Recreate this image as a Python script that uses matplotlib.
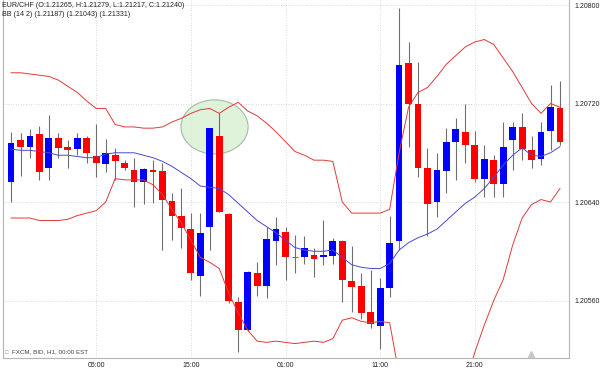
import matplotlib
matplotlib.use("Agg")
import matplotlib.pyplot as plt
from matplotlib.patches import Rectangle, Ellipse

plt.rcParams["font.family"] = ["Liberation Sans", "DejaVu Sans"]

# hourly EUR/CHF candles
opens = [1.20656, 1.20690, 1.20685, 1.20695, 1.20668, 1.20692, 1.20685, 1.20683, 1.20692, 1.20677,
         1.20671, 1.20678, 1.20672, 1.20666, 1.20656, 1.20666, 1.20665, 1.20641, 1.20629, 1.20618,
         1.20580, 1.20620, 1.20694, 1.20630, 1.20559, 1.20536, 1.20582, 1.20572, 1.20608, 1.20616,
         1.20595, 1.20595, 1.20597, 1.20595, 1.20596, 1.20608, 1.20576, 1.20572, 1.20551, 1.20539,
         1.20570, 1.20608, 1.20753, 1.20720, 1.20668, 1.20640, 1.20665, 1.20689, 1.20697, 1.20686,
         1.20659, 1.20674, 1.20655, 1.20690, 1.20701, 1.20682, 1.20675, 1.20698, 1.20716]
highs = [1.20697, 1.20696, 1.20699, 1.20702, 1.20711, 1.20696, 1.20690, 1.20696, 1.20694, 1.20703,
         1.20691, 1.20684, 1.20674, 1.20676, 1.20668, 1.20674, 1.20672, 1.20647, 1.20651, 1.20631,
         1.20631, 1.20700, 1.20712, 1.20631, 1.20563, 1.20584, 1.20591, 1.20620, 1.20628, 1.20620,
         1.20613, 1.20612, 1.20603, 1.20625, 1.20611, 1.20609, 1.20604, 1.20582, 1.20585, 1.20578,
         1.20629, 1.20798, 1.20770, 1.20754, 1.20684, 1.20680, 1.20700, 1.20708, 1.20720, 1.20698,
         1.20686, 1.20678, 1.20705, 1.20705, 1.20712, 1.20694, 1.20705, 1.20735, 1.20738]
lows = [1.20640, 1.20661, 1.20676, 1.20658, 1.20658, 1.20676, 1.20668, 1.20678, 1.20672, 1.20660,
        1.20664, 1.20658, 1.20666, 1.20636, 1.20638, 1.20639, 1.20601, 1.20609, 1.20603, 1.20577,
        1.20564, 1.20601, 1.20632, 1.20558, 1.20518, 1.20535, 1.20564, 1.20562, 1.20589, 1.20577,
        1.20582, 1.20590, 1.20579, 1.20589, 1.20590, 1.20559, 1.20551, 1.20545, 1.20538, 1.20521,
        1.20563, 1.20601, 1.20685, 1.20660, 1.20612, 1.20628, 1.20647, 1.20658, 1.20672, 1.20656,
        1.20644, 1.20644, 1.20644, 1.20666, 1.20674, 1.20668, 1.20670, 1.20682, 1.20686]
closes = [1.20688, 1.20685, 1.20694, 1.20664, 1.20692, 1.20684, 1.20682, 1.20692, 1.20680, 1.20672,
          1.20680, 1.20673, 1.20668, 1.20656, 1.20667, 1.20664, 1.20642, 1.20629, 1.20619, 1.20582,
          1.20615, 1.20700, 1.20632, 1.20560, 1.20536, 1.20583, 1.20572, 1.20610, 1.20618, 1.20595,
          1.20595, 1.20603, 1.20594, 1.20597, 1.20608, 1.20577, 1.20571, 1.20550, 1.20541, 1.20570,
          1.20607, 1.20751, 1.20720, 1.20668, 1.20638, 1.20666, 1.20689, 1.20699, 1.20686, 1.20659,
          1.20675, 1.20655, 1.20685, 1.20701, 1.20683, 1.20674, 1.20697, 1.20717, 1.20689]

# Bollinger bands (14, 2) as drawn
bb_upper = [1.20745, 1.20745, 1.20744, 1.20743, 1.20742, 1.20739, 1.20734, 1.20729, 1.20722, 1.20716,
            1.20716, 1.20703, 1.20701, 1.20701, 1.20700, 1.20700, 1.20701, 1.20705, 1.20708, 1.20712,
            1.20715, 1.20716, 1.20712, 1.20717, 1.20721, 1.20714, 1.20710, 1.20704, 1.20697, 1.20689,
            1.20681, 1.20678, 1.20674, 1.20674, 1.20673, 1.20640, 1.20631, 1.20631, 1.20631, 1.20631,
            1.20634, 1.20680, 1.20717, 1.20729, 1.20733, 1.20742, 1.20752, 1.20759, 1.20766, 1.20770,
            1.20772, 1.20768, 1.20757, 1.20746, 1.20733, 1.20720, 1.20712, 1.20720, 1.20717]
bb_mid = [1.20683, 1.20682, 1.20682, 1.20681, 1.20680, 1.20678, 1.20678, 1.20677, 1.20676, 1.20676,
          1.20679, 1.20680, 1.20680, 1.20680, 1.20678, 1.20676, 1.20673, 1.20669, 1.20664, 1.20659,
          1.20653, 1.20652, 1.20651, 1.20646, 1.20639, 1.20632, 1.20625, 1.20620, 1.20615, 1.20609,
          1.20603, 1.20601, 1.20600, 1.20600, 1.20601, 1.20595, 1.20589, 1.20587, 1.20586, 1.20586,
          1.20590, 1.20601, 1.20607, 1.20611, 1.20614, 1.20618, 1.20625, 1.20632, 1.20639, 1.20644,
          1.20651, 1.20660, 1.20670, 1.20678, 1.20684, 1.20678, 1.20677, 1.20680, 1.20685]
bb_lower = [1.20627, 1.20627, 1.20627, 1.20625, 1.20625, 1.20625, 1.20626, 1.20629, 1.20631, 1.20633,
            1.20640, 1.20659, 1.20658, 1.20658, 1.20658, 1.20654, 1.20646, 1.20634, 1.20623, 1.20609,
            1.20595, 1.20591, 1.20586, 1.20566, 1.20550, 1.20536, 1.20527, 1.20526, 1.20527, 1.20526,
            1.20525, 1.20526, 1.20527, 1.20526, 1.20529, 1.20544, 1.20546, 1.20543, 1.20542, 1.20543,
            1.20542, 1.20500, 1.20463, 1.20447, 1.20439, 1.20439, 1.20447, 1.20463, 1.20491, 1.20518,
            1.20540, 1.20560, 1.20577, 1.20605, 1.20627, 1.20638, 1.20642, 1.20640, 1.20651]

time_tick_pos = [9, 19, 29, 39, 49]
time_tick_labels = ["05:00", "15:00", "01:00", "11:00", "21:00"]
price_ticks = [1.20560, 1.20640, 1.20720, 1.20800]

fig = plt.figure(figsize=(6, 3.69), dpi=100)
ax = fig.add_axes([0.005, 0.0298, 0.9433, 0.9702])

n = len(opens)
x = list(range(n))

for i in range(n):
    o, h, l, c = opens[i], highs[i], lows[i], closes[i]
    ax.vlines(i, l, h, color="#707070", lw=0.8, zorder=2)
    if c > o:
        col = "#0000ff"
    elif c < o:
        col = "#ff0000"
    else:
        ax.hlines(o, i - 0.36, i + 0.36, color="#707070", lw=0.8, zorder=3)
        continue
    ax.add_patch(Rectangle((i - 0.36, min(o, c)), 0.72, abs(c - o),
                           facecolor=col, edgecolor="none", zorder=3))

ax.plot(x, bb_upper, color="#e03a3a", lw=0.7, zorder=4)
ax.plot(x, bb_lower, color="#e03a3a", lw=0.7, zorder=4)
ax.plot(x, bb_mid, color="#4a4ad0", lw=0.7, zorder=4)

# highlight circle
ax.add_patch(Ellipse((21.5, 1.20701), 7.1, 0.00044, facecolor="#d3f0cd",
                     edgecolor="#8aa88a", lw=0.8, alpha=0.75, zorder=1))

ax.set_xlim(-0.85, n - 0.05)
ax.set_ylim(1.205133, 1.208041)

ax.set_xticks(time_tick_pos)
ax.set_xticklabels(time_tick_labels)
ax.set_yticks(price_ticks)
ax.set_yticklabels([f"{p:.5f}" for p in price_ticks])
ax.yaxis.tick_right()
ax.tick_params(axis="both", length=0, labelsize=5, colors="#222222")
ax.tick_params(axis="y", pad=4)
ax.tick_params(axis="x", pad=3)

ax.grid(True, color="#cfcfcf", lw=0.6, ls=(0, (1, 2)))
ax.set_axisbelow(True)
for side in ["left", "right", "bottom"]:
    ax.spines[side].set_color("#b5b5b5")
    ax.spines[side].set_linewidth(0.8)
ax.spines["top"].set_visible(False)

ax.plot([0.933], [0.012], marker="^", ms=5, color="#c8c8c8",
        transform=ax.transAxes, clip_on=False, zorder=5)

fig.text(0.004, 0.985, "EUR/CHF (O:1.21265, H:1.21279, L:1.21217, C:1.21240)",
         fontsize=5.1, color="#222222", va="center")
fig.text(0.004, 0.962, "BB (14 2) (1.21187) (1.21043) (1.21331)",
         fontsize=5.1, color="#222222", va="center")
fig.text(0.009, 0.046, "\u25a1", fontsize=4, color="#999999", va="center")
fig.text(0.02, 0.046, "FXCM, BID, H1, 00:00 EST", fontsize=4.5, color="#444444", va="center")

plt.savefig("out.png", dpi=100)
